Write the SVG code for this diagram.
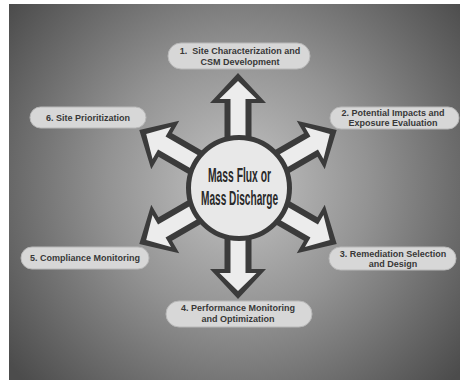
<svg xmlns="http://www.w3.org/2000/svg" width="460" height="381" viewBox="0 0 460 381">
<defs>
<radialGradient id="bg" gradientUnits="userSpaceOnUse" cx="238" cy="185" r="290">
<stop offset="0" stop-color="#c4c4c4"/>
<stop offset="0.45" stop-color="#939393"/>
<stop offset="1" stop-color="#4c4c4c"/>
</radialGradient>
<g id="arrow">
<path class="ao" d="M0,-114 L28,-84 L13.5,-84 L13.5,-40 L-13.5,-40 L-13.5,-84 L-28,-84 Z"/>
<path class="ai" d="M0,-106 L18.5,-88 L7.5,-88 L7.5,-40 L-7.5,-40 L-7.5,-88 L-18.5,-88 Z"/>
</g>
</defs>
<style>
.ao{fill:#3b3b3b}
.ai{fill:#ececec}
.pill{fill:#d7d7d7;stroke:#b8b8b8;stroke-width:1}
.lbl{font-family:"Liberation Sans",Arial,sans-serif;font-weight:bold;font-size:9px;fill:#383838;text-anchor:middle;white-space:pre}
.ctr{font-family:"Liberation Sans",Arial,sans-serif;font-weight:bold;font-size:20px;fill:#2a2a2a;text-anchor:middle}
</style>
<rect x="0" y="0" width="460" height="381" fill="#ffffff"/>
<rect x="9" y="4" width="451" height="376" fill="url(#bg)"/>
<g id="connectors">
<use href="#arrow" transform="translate(238,187)"/>
<use href="#arrow" transform="translate(238,187) rotate(60)"/>
<use href="#arrow" transform="translate(238,187) rotate(120)"/>
<use href="#arrow" transform="translate(238,185) rotate(180)"/>
<use href="#arrow" transform="translate(238,187) rotate(240)"/>
<use href="#arrow" transform="translate(238,187) rotate(300)"/>
</g>
<g id="center">
<circle cx="239" cy="188" r="50.5" fill="#e8e8e8" stroke="#3b3b3b" stroke-width="5"/>
<text class="ctr" x="239.5" y="182" textLength="63" lengthAdjust="spacingAndGlyphs">Mass Flux or</text>
<text class="ctr" x="239.5" y="205" textLength="77" lengthAdjust="spacingAndGlyphs">Mass Discharge</text>
</g>
<g id="n1">
<rect class="pill" x="168" y="43" width="142" height="26" rx="13"/>
<text class="lbl" x="240" y="53.5" xml:space="preserve">1.  Site Characterization and</text>
<text class="lbl" x="240" y="64.5">CSM Development</text>
</g>
<g id="n2">
<rect class="pill" x="330" y="107" width="129" height="22" rx="11"/>
<text class="lbl" x="393" y="115.5">2. Potential Impacts and</text>
<text class="lbl" x="393" y="126">Exposure Evaluation</text>
</g>
<g id="n3">
<rect class="pill" x="329" y="247" width="127" height="23" rx="11.5"/>
<text class="lbl" x="393" y="256.5">3. Remediation Selection</text>
<text class="lbl" x="393" y="267">and Design</text>
</g>
<g id="n4">
<rect class="pill" x="166" y="301" width="146" height="26" rx="13"/>
<text class="lbl" x="238" y="310.5">4. Performance Monitoring</text>
<text class="lbl" x="238" y="321.5">and Optimization</text>
</g>
<g id="n5">
<rect class="pill" x="21" y="247" width="128" height="22" rx="11"/>
<text class="lbl" x="85" y="261">5. Compliance Monitoring</text>
</g>
<g id="n6">
<rect class="pill" x="30" y="107" width="116" height="21" rx="10.5"/>
<text class="lbl" x="88" y="120.5">6. Site Prioritization</text>
</g>
</svg>
